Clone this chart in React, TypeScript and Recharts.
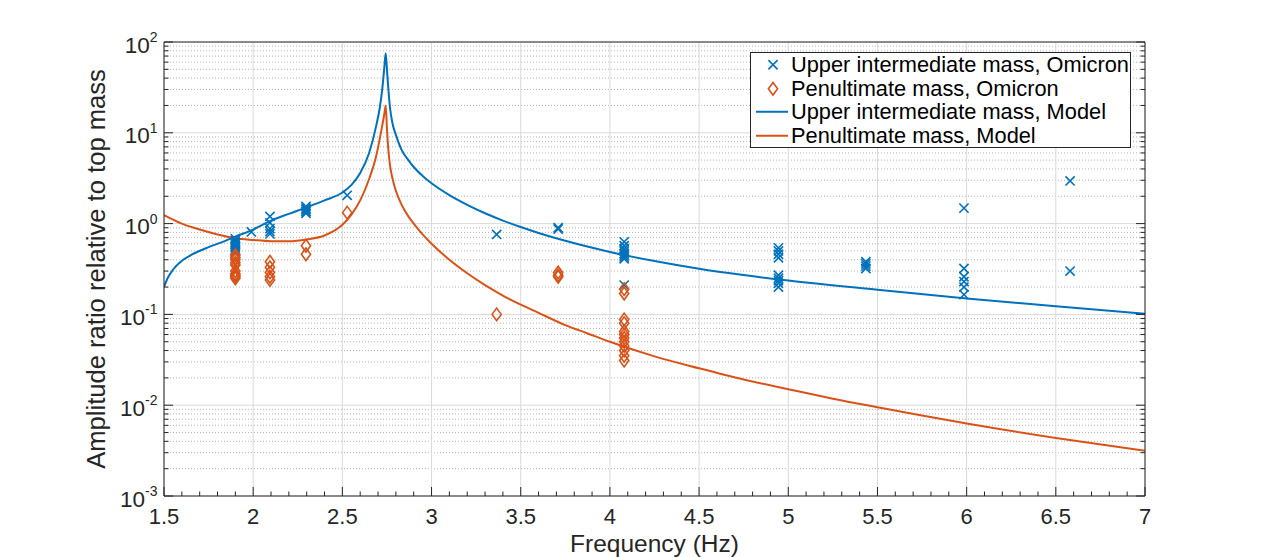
import React from "react";
import { ComposedChart, Line, Scatter, XAxis, YAxis, CartesianGrid, Legend } from "recharts";

const BLUE = "#0072BD";
const ORANGE = "#D95319";
const AXIS = "#262626";
const FONT = "'Liberation Sans', Arial, Helvetica, sans-serif";

const UIM_NAME = "Upper intermediate mass, Omicron";
const PM_NAME = "Penultimate mass, Omicron";
const UIM_MODEL_NAME = "Upper intermediate mass, Model";
const PM_MODEL_NAME = "Penultimate mass, Model";

// measured ratios, f in Hz
const uimOmicron = [
  { f: 1.9, v: 0.68 }, { f: 1.9, v: 0.65 }, { f: 1.9, v: 0.62 }, { f: 1.9, v: 0.6 },
  { f: 1.9, v: 0.58 }, { f: 1.9, v: 0.56 }, { f: 1.9, v: 0.54 }, { f: 1.9, v: 0.52 },
  { f: 1.9, v: 0.5 }, { f: 1.9, v: 0.48 },
  { f: 1.99, v: 0.81 },
  { f: 2.094, v: 1.2 }, { f: 2.094, v: 1.02 }, { f: 2.094, v: 0.88 }, { f: 2.094, v: 0.82 }, { f: 2.094, v: 0.77 },
  { f: 2.296, v: 1.55 }, { f: 2.296, v: 1.48 }, { f: 2.296, v: 1.42 }, { f: 2.296, v: 1.36 }, { f: 2.296, v: 1.3 },
  { f: 2.527, v: 2.05 },
  { f: 3.365, v: 0.76 },
  { f: 3.71, v: 0.9 }, { f: 3.71, v: 0.87 },
  { f: 4.08, v: 0.63 }, { f: 4.08, v: 0.57 }, { f: 4.08, v: 0.53 }, { f: 4.08, v: 0.5 },
  { f: 4.08, v: 0.47 }, { f: 4.08, v: 0.45 }, { f: 4.08, v: 0.43 }, { f: 4.08, v: 0.41 }, { f: 4.08, v: 0.21 },
  { f: 4.945, v: 0.54 }, { f: 4.945, v: 0.5 }, { f: 4.945, v: 0.46 }, { f: 4.945, v: 0.42 },
  { f: 4.945, v: 0.27 }, { f: 4.945, v: 0.25 }, { f: 4.945, v: 0.235 }, { f: 4.945, v: 0.22 }, { f: 4.945, v: 0.2 },
  { f: 5.435, v: 0.38 }, { f: 5.435, v: 0.36 }, { f: 5.435, v: 0.34 }, { f: 5.435, v: 0.32 },
  { f: 5.985, v: 1.48 }, { f: 5.985, v: 0.32 }, { f: 5.985, v: 0.26 }, { f: 5.985, v: 0.23 },
  { f: 5.985, v: 0.2 }, { f: 5.985, v: 0.165 },
  { f: 6.58, v: 2.95 }, { f: 6.58, v: 0.3 },
];

const pmOmicron = [
  { f: 1.9, v: 0.45 }, { f: 1.9, v: 0.42 }, { f: 1.9, v: 0.4 }, { f: 1.9, v: 0.37 }, { f: 1.9, v: 0.35 },
  { f: 1.9, v: 0.3 }, { f: 1.9, v: 0.28 }, { f: 1.9, v: 0.27 }, { f: 1.9, v: 0.26 }, { f: 1.9, v: 0.25 },
  { f: 2.094, v: 0.38 }, { f: 2.094, v: 0.33 }, { f: 2.094, v: 0.29 }, { f: 2.094, v: 0.26 }, { f: 2.094, v: 0.24 },
  { f: 2.296, v: 0.57 }, { f: 2.296, v: 0.46 },
  { f: 2.527, v: 1.32 },
  { f: 3.365, v: 0.1 },
  { f: 3.71, v: 0.29 }, { f: 3.71, v: 0.27 }, { f: 3.71, v: 0.26 },
  { f: 4.08, v: 0.19 }, { f: 4.08, v: 0.17 }, { f: 4.08, v: 0.088 }, { f: 4.08, v: 0.08 },
  { f: 4.08, v: 0.065 }, { f: 4.08, v: 0.06 }, { f: 4.08, v: 0.055 }, { f: 4.08, v: 0.05 },
  { f: 4.08, v: 0.045 }, { f: 4.08, v: 0.04 }, { f: 4.08, v: 0.035 }, { f: 4.08, v: 0.031 },
];

// model transfer functions
const uimModel = [
  { f: 1.5, v: 0.2 }, { f: 1.52, v: 0.25 }, { f: 1.55, v: 0.31 }, { f: 1.6, v: 0.39 },
  { f: 1.66, v: 0.46 }, { f: 1.75, v: 0.55 }, { f: 1.83, v: 0.63 }, { f: 1.9, v: 0.72 },
  { f: 2.0, v: 0.86 }, { f: 2.1, v: 1.08 }, { f: 2.2, v: 1.28 }, { f: 2.3, v: 1.51 },
  { f: 2.4, v: 1.8 }, { f: 2.5, v: 2.2 }, { f: 2.55, v: 2.65 }, { f: 2.6, v: 3.6 },
  { f: 2.65, v: 6.0 }, { f: 2.69, v: 12 }, { f: 2.71, v: 19 }, { f: 2.725, v: 32 },
  { f: 2.735, v: 52 }, { f: 2.743, v: 75 }, { f: 2.75, v: 50 }, { f: 2.758, v: 30 },
  { f: 2.767, v: 19 }, { f: 2.78, v: 13 }, { f: 2.8, v: 9.5 }, { f: 2.83, v: 6.6 },
  { f: 2.87, v: 5.0 }, { f: 2.9, v: 4.2 }, { f: 2.95, v: 3.35 }, { f: 3.0, v: 2.78 },
  { f: 3.1, v: 2.06 }, { f: 3.2, v: 1.61 }, { f: 3.3, v: 1.3 }, { f: 3.4, v: 1.08 },
  { f: 3.5, v: 0.916 }, { f: 3.6, v: 0.789 }, { f: 3.75, v: 0.646 }, { f: 4.0, v: 0.487 },
  { f: 4.25, v: 0.387 }, { f: 4.5, v: 0.318 }, { f: 4.75, v: 0.271 }, { f: 5.0, v: 0.236 },
  { f: 5.5, v: 0.187 }, { f: 6.0, v: 0.15 }, { f: 6.5, v: 0.123 }, { f: 7.0, v: 0.1017 },
];

const pmModel = [
  { f: 1.5, v: 1.24 }, { f: 1.6, v: 1.0 }, { f: 1.7, v: 0.86 }, { f: 1.8, v: 0.76 },
  { f: 1.9, v: 0.69 }, { f: 2.0, v: 0.66 }, { f: 2.1, v: 0.64 }, { f: 2.2, v: 0.64 },
  { f: 2.3, v: 0.67 }, { f: 2.4, v: 0.74 }, { f: 2.5, v: 0.97 }, { f: 2.55, v: 1.25 },
  { f: 2.6, v: 1.8 }, { f: 2.65, v: 3.1 }, { f: 2.69, v: 5.6 }, { f: 2.72, v: 11 },
  { f: 2.735, v: 16 }, { f: 2.743, v: 20 }, { f: 2.75, v: 11 }, { f: 2.757, v: 6.8 },
  { f: 2.767, v: 4.4 }, { f: 2.78, v: 3.2 }, { f: 2.8, v: 2.3 }, { f: 2.83, v: 1.65 },
  { f: 2.87, v: 1.2 }, { f: 2.9, v: 1.0 }, { f: 2.95, v: 0.76 }, { f: 3.0, v: 0.6 },
  { f: 3.1, v: 0.4 }, { f: 3.2, v: 0.284 }, { f: 3.3, v: 0.21 }, { f: 3.4, v: 0.161 },
  { f: 3.5, v: 0.128 }, { f: 3.6, v: 0.104 }, { f: 3.75, v: 0.0762 }, { f: 3.875, v: 0.0617 },
  { f: 4.0, v: 0.0499 }, { f: 4.25, v: 0.0345 }, { f: 4.5, v: 0.0255 }, { f: 4.75, v: 0.0192 },
  { f: 5.0, v: 0.015 }, { f: 5.25, v: 0.0118 }, { f: 5.5, v: 0.0095 }, { f: 5.75, v: 0.0077 },
  { f: 6.0, v: 0.0063 }, { f: 6.5, v: 0.00436 }, { f: 7.0, v: 0.00315 },
];

const X_MAJOR = [1.5, 2, 2.5, 3, 3.5, 4, 4.5, 5, 5.5, 6, 6.5, 7];
const Y_DECADES = [0.001, 0.01, 0.1, 1, 10, 100];

// 0.1 Hz minor ticks and 2..9 per decade
const X_TICKS: number[] = [];
for (let k = 15; k <= 70; k++) X_TICKS.push(k / 10);
const Y_MINOR: number[] = [];
for (let e = -3; e < 2; e++) for (let m = 2; m <= 9; m++) Y_MINOR.push(m * Math.pow(10, e));
const Y_TICKS = [...Y_DECADES, ...Y_MINOR].sort((a, b) => a - b);

const isMajorX = (v: number) => Math.abs(v * 2 - Math.round(v * 2)) < 1e-6;
const isDecade = (v: number) => Math.abs(Math.log10(v) - Math.round(Math.log10(v))) < 1e-6;

const MAJOR_LEN = 9;
const MINOR_LEN = 4.5;

function BottomTick({ x, y, payload }: any) {
  const major = isMajorX(payload.value);
  return (
    <g>
      <line x1={x} x2={x} y1={y} y2={y - (major ? MAJOR_LEN : MINOR_LEN)} stroke={AXIS} />
      {major && (
        <text x={x} y={y + 28} textAnchor="middle" fontSize={22} fill={AXIS}>
          {String(payload.value)}
        </text>
      )}
    </g>
  );
}

function TopTick({ x, y, payload }: any) {
  const major = isMajorX(payload.value);
  return <line x1={x} x2={x} y1={y} y2={y + (major ? MAJOR_LEN : MINOR_LEN)} stroke={AXIS} />;
}

function LeftTick({ x, y, payload }: any) {
  const major = isDecade(payload.value);
  const exp = Math.round(Math.log10(payload.value));
  return (
    <g>
      <line x1={x} x2={x + (major ? MAJOR_LEN : MINOR_LEN)} y1={y} y2={y} stroke={AXIS} />
      {major && (
        <text x={x - 6.5} y={y + 10.5} textAnchor="end" fontSize={22.5} fill={AXIS}>
          10
          <tspan dy={-10.5} fontSize={14}>{String(exp)}</tspan>
        </text>
      )}
    </g>
  );
}

function RightTick({ x, y, payload }: any) {
  const major = isDecade(payload.value);
  return <line x1={x} x2={x - (major ? MAJOR_LEN : MINOR_LEN)} y1={y} y2={y} stroke={AXIS} />;
}

function CrossMark({ cx, cy }: any) {
  const r = 4.6;
  return (
    <path
      d={`M${cx - r},${cy - r}L${cx + r},${cy + r}M${cx - r},${cy + r}L${cx + r},${cy - r}`}
      stroke={BLUE}
      strokeWidth={1.6}
      fill="none"
    />
  );
}

function DiamondMark({ cx, cy }: any) {
  const w = 4.6;
  const h = 6.3;
  return (
    <path
      d={`M${cx},${cy - h}L${cx + w},${cy}L${cx},${cy + h}L${cx - w},${cy}Z`}
      stroke={ORANGE}
      strokeWidth={1.6}
      fill="none"
    />
  );
}

const LEGEND_ROWS = [
  { name: UIM_NAME, kind: "cross", color: BLUE },
  { name: PM_NAME, kind: "diamond", color: ORANGE },
  { name: UIM_MODEL_NAME, kind: "line", color: BLUE },
  { name: PM_MODEL_NAME, kind: "line", color: ORANGE },
];

function LegendBox() {
  const rowH = 23.5;
  return (
    <div
      style={{
        width: 379,
        height: 94,
        border: `1px solid ${AXIS}`,
        background: "#fff",
        fontFamily: FONT,
        fontSize: 21.8,
        color: "#000",
      }}
    >
      {LEGEND_ROWS.map((row) => (
        <div key={row.name} style={{ display: "flex", alignItems: "center", height: rowH }}>
          <svg width={40} height={rowH} style={{ flex: "none" }}>
            {row.kind === "line" && (
              <line x1={5} x2={37} y1={rowH / 2} y2={rowH / 2} stroke={row.color} strokeWidth={2} />
            )}
            {row.kind === "cross" && <CrossMark cx={22} cy={rowH / 2} />}
            {row.kind === "diamond" && <DiamondMark cx={22} cy={rowH / 2} />}
          </svg>
          <span style={{ whiteSpace: "nowrap", lineHeight: `${rowH}px` }}>{row.name}</span>
        </div>
      ))}
    </div>
  );
}

export default function App() {
  return (
    <div
      style={{
        position: "absolute",
        left: 0,
        top: 0,
        width: 1265,
        height: 557,
        background: "#fff",
        fontFamily: FONT,
      }}
    >
      {/* each axis takes 1px, so the plot box spans x 164..1145, y 42..496 */}
      <ComposedChart width={1265} height={557} margin={{ top: 41, right: 119, bottom: 60, left: 163 }}>
        <CartesianGrid
          horizontalValues={Y_MINOR}
          vertical={false}
          stroke="#b5b5b5"
          strokeDasharray="1 2"
        />
        <CartesianGrid
          horizontalValues={Y_DECADES}
          verticalValues={X_MAJOR}
          stroke="#dadada"
        />
        <XAxis
          dataKey="f"
          type="number"
          domain={[1.5, 7]}
          allowDataOverflow
          ticks={X_TICKS}
          interval={0}
          height={1}
          tickSize={0}
          tickMargin={0}
          tickLine={false}
          tick={<BottomTick />}
          axisLine={{ stroke: AXIS }}
          label={{ value: "Frequency (Hz)", position: "bottom", offset: 38, fontSize: 24.5, fill: AXIS }}
        />
        <XAxis
          xAxisId="top"
          orientation="top"
          type="number"
          domain={[1.5, 7]}
          allowDataOverflow
          ticks={X_TICKS}
          interval={0}
          height={1}
          tickSize={0}
          tickMargin={0}
          tickLine={false}
          tick={<TopTick />}
          axisLine={{ stroke: AXIS }}
        />
        <YAxis
          dataKey="v"
          scale="log"
          domain={[0.001, 100]}
          allowDataOverflow
          ticks={Y_TICKS}
          interval={0}
          width={1}
          tickSize={0}
          tickMargin={0}
          tickLine={false}
          tick={<LeftTick />}
          axisLine={{ stroke: AXIS }}
          label={{
            value: "Amplitude ratio relative to top mass",
            angle: -90,
            position: "left",
            offset: 67,
            fontSize: 25.6,
            fill: AXIS,
            style: { textAnchor: "middle" },
          }}
        />
        <YAxis
          yAxisId="right"
          orientation="right"
          scale="log"
          domain={[0.001, 100]}
          allowDataOverflow
          ticks={Y_TICKS}
          interval={0}
          width={1}
          tickSize={0}
          tickMargin={0}
          tickLine={false}
          tick={<RightTick />}
          axisLine={{ stroke: AXIS }}
        />
        <Scatter
          name={UIM_NAME}
          data={uimOmicron}
          dataKey="v"
          shape={<CrossMark />}
          isAnimationActive={false}
        />
        <Scatter
          name={PM_NAME}
          data={pmOmicron}
          dataKey="v"
          shape={<DiamondMark />}
          isAnimationActive={false}
        />
        <Line
          name={UIM_MODEL_NAME}
          data={uimModel}
          dataKey="v"
          type="monotone"
          stroke={BLUE}
          strokeWidth={2}
          dot={false}
          activeDot={false}
          isAnimationActive={false}
        />
        <Line
          name={PM_MODEL_NAME}
          data={pmModel}
          dataKey="v"
          type="monotone"
          stroke={ORANGE}
          strokeWidth={2}
          dot={false}
          activeDot={false}
          isAnimationActive={false}
        />
        <Legend
          layout="vertical"
          align="center"
          verticalAlign="middle"
          content={<LegendBox />}
          wrapperStyle={{ left: 750, top: 52, width: 381, height: 96 }}
        />
      </ComposedChart>
    </div>
  );
}
